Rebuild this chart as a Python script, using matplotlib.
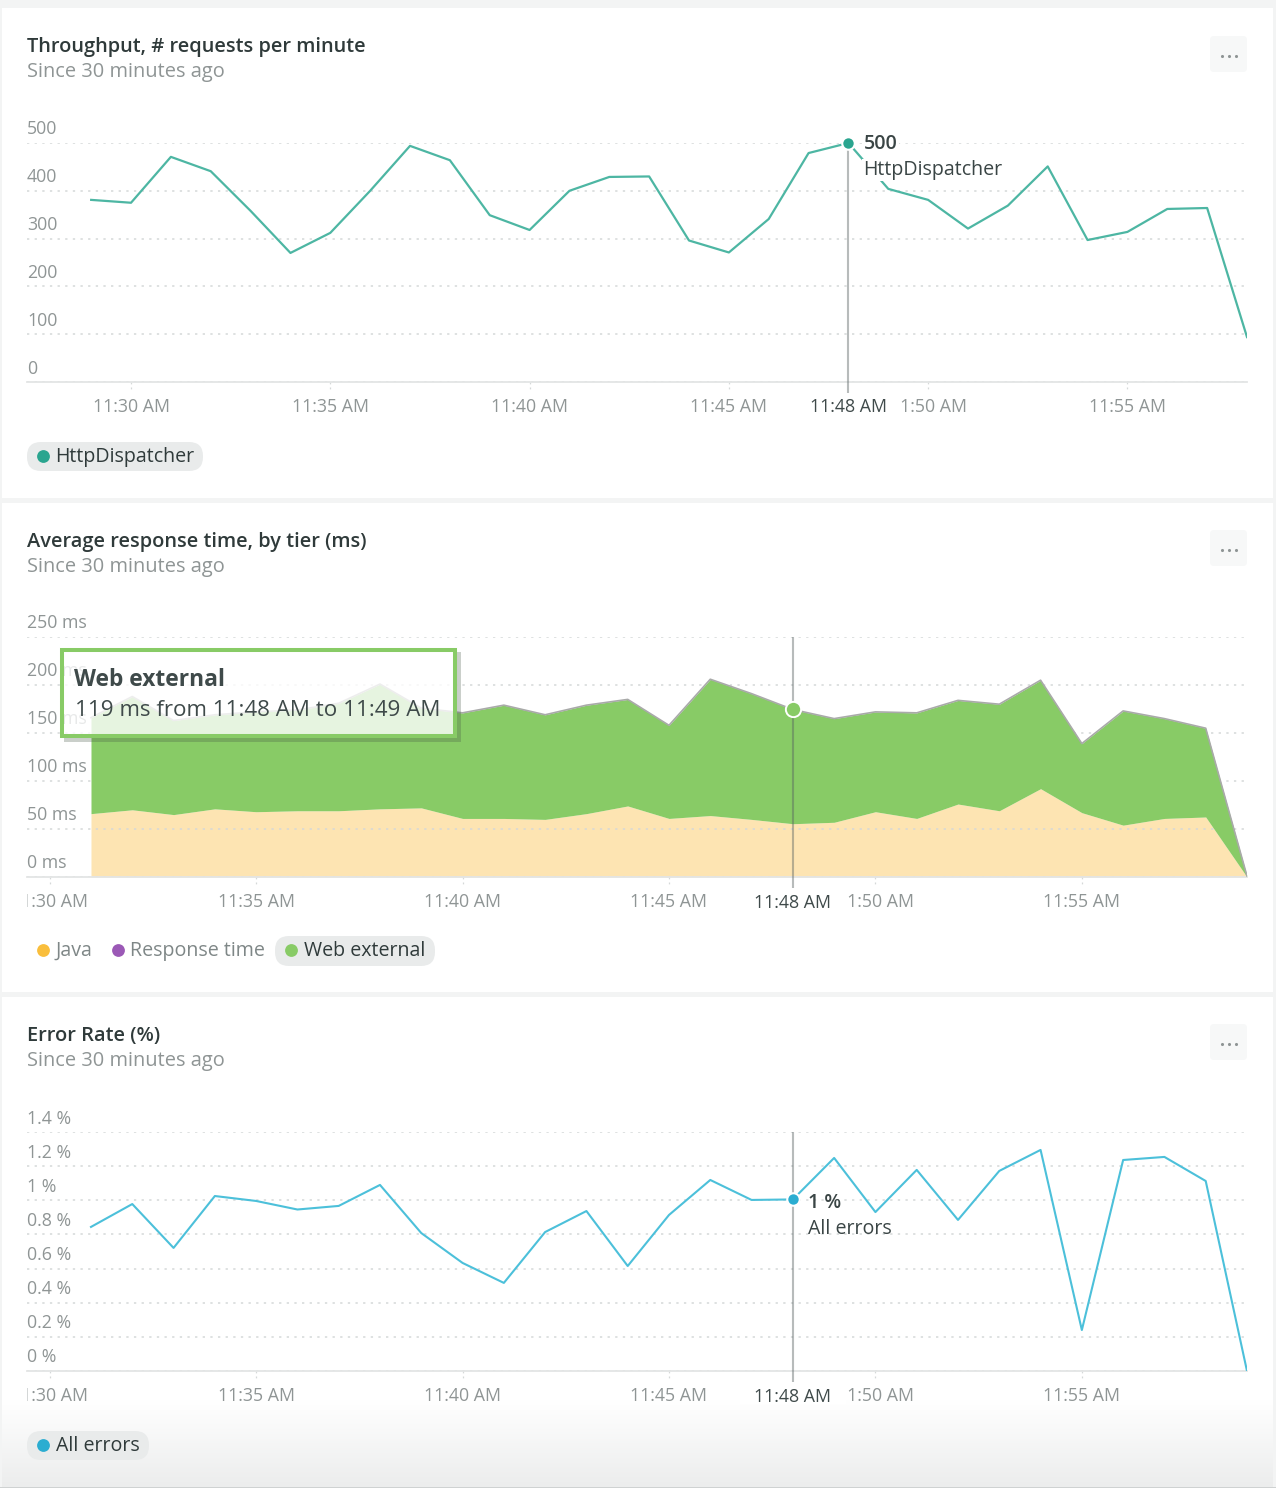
import numpy as np
import matplotlib
matplotlib.use("Agg")
import matplotlib.pyplot as plt
from matplotlib.patches import Rectangle, FancyBboxPatch
from matplotlib.transforms import ScaledTranslation, Bbox

plt.rcParams['font.family'] = ['Open Sans', 'DejaVu Sans']

# ---- data ----
throughput_minutes = list(range(29, 59))
throughput = [381, 375, 471, 441, 358, 270, 312, 400, 494, 464, 349, 318, 400, 429, 430,
              296, 271, 341, 479, 500, 404, 381, 321, 369, 451, 297, 314, 362, 364, 94]
response_minutes = list(range(31, 60))
java_ms = [66, 70, 65, 71, 68, 69, 69, 71, 72, 61, 61, 60, 66, 74, 61, 64, 60, 55.5, 57,
           68, 61, 76, 69, 92, 67, 54, 61, 62.5, 0]
web_external_ms = [100, 118, 98, 98, 104, 105, 112, 130, 104, 110, 118, 109, 113, 111, 97,
                   142, 131, 119, 108, 104, 110, 108, 111, 113, 72, 119, 104, 92.5, 1]
error_rate = [0.844, 0.978, 0.721, 1.025, 0.996, 0.946, 0.967, 1.09, 0.808, 0.633, 0.516,
              0.814, 0.937, 0.615, 0.914, 1.119, 1.002, 1.005, 1.248, 0.931, 1.178, 0.885,
              1.172, 1.295, 0.24, 1.236, 1.254, 1.113, 0.0]
time_ticks = [30, 35, 40, 45, 50, 55]
time_labels = ['11:30 AM', '11:35 AM', '11:40 AM', '11:45 AM', '11:50 AM', '11:55 AM']
t_yticks = [0, 100, 200, 300, 400, 500]
t_ylabels = ['0', '100', '200', '300', '400', '500']
r_yticks = [0, 50, 100, 150, 200, 250]
r_ylabels = ['0 ms', '50 ms', '100 ms', '150 ms', '200 ms', '250 ms']
e_yticks = [0, 0.2, 0.4, 0.6, 0.8, 1.0, 1.2, 1.4]
e_ylabels = ['0 %', '0.2 %', '0.4 %', '0.6 %', '0.8 %', '1 %', '1.2 %', '1.4 %']
hover_minute = 48

# ---- layout / colours ----
W, H = 1276, 1488
PAGE = '#F3F4F4'
GRID = '#D5D8D8'
AXIS = '#E3E5E5'
TICK = '#8F9595'
DARK = '#2F3A3A'
TEAL_L, TEAL_D = '#4DB6A3', '#2AA58F'
GREEN = '#88CB66'
JAVA = '#FDE4B2'
BLUE_L, BLUE_D = '#4CC0DA', '#2BADD1'
PURPLE = '#9B59B6'
YELLOW = '#F9BE3C'
TICK_FS = 12.75

fig = plt.figure(figsize=(W / 100, H / 100), dpi=100, facecolor=PAGE)

bg = fig.add_axes([0, 0, 1, 1], zorder=-1)
bg.set_xlim(0, W); bg.set_ylim(H, 0); bg.axis('off')
for top, bot in [(8, 498), (503, 992), (997, 1488)]:
    bg.add_patch(Rectangle((2, top), 1271, bot - top, fc='white', ec='none'))
grad = np.linspace(0, 1, 100).reshape(-1, 1)
cmap = matplotlib.colors.LinearSegmentedColormap.from_list('f', ['#FFFFFF', '#ECEDED'])
bg.imshow(grad, extent=(2, 1273, 1487, 1400), cmap=cmap, aspect='auto', zorder=1)
bg.add_patch(Rectangle((0, 1487), W, 1, fc='#CFD2D2', ec='none', zorder=2))
bg.set_xlim(0, W); bg.set_ylim(H, 0)


def pill(x0, x1, y0, y1):
    bg.add_patch(FancyBboxPatch((x0 + 14, y0 + 14), x1 - x0 - 28, y1 - y0 - 28,
                                boxstyle='round,pad=14', fc='#E9EBEB', ec='none', zorder=2))


def legend_item(dot_x, y, text, color, active):
    bg.scatter([dot_x], [y], s=85, color=color, lw=0, zorder=3)
    bg.text(dot_x + 12.5, y + 1, text, fontsize=14.1, va='center', ha='left',
            color='#2F3A3A' if active else '#7F8787', zorder=3)


def header(title, y, sub_y):
    bg.text(27, y + 2, title, fontsize=14.4, fontweight=600, color=DARK, va='center', ha='left')
    bg.text(27, sub_y + 2, 'Since 30 minutes ago', fontsize=14.4, color=TICK, va='center', ha='left')


def menu(y):
    bg.add_patch(FancyBboxPatch((1214, y - 16), 29, 28, boxstyle='round,pad=4',
                                fc='#F7F8F8', ec='none', zorder=2))
    bg.scatter([1222, 1229, 1236], [y, y, y], s=5, color='#8F9595', lw=0, zorder=3)


header('Throughput, # requests per minute', 45, 70)
header('Average response time, by tier (ms)', 540, 565)
header('Error Rate (%)', 1034, 1059)
for y in (56, 550, 1044):
    menu(y)

pill(27, 203, 442, 471)
legend_item(43, 456, 'HttpDispatcher', TEAL_D, True)
legend_item(43, 950, 'Java', YELLOW, False)
legend_item(118, 950, 'Response time', PURPLE, False)
pill(275, 435, 936, 966)
legend_item(291, 950, 'Web external', GREEN, True)
pill(27, 149, 1431, 1460)
legend_item(43, 1445, 'All errors', BLUE_D, True)


def panel(top, bottom, xlim, ylim, yticks, ylabels):
    ax = fig.add_axes([27 / W, 1 - bottom / H, 1220 / W, (bottom - top) / H], zorder=1)
    ax.set_facecolor('none')
    ax.set_xlim(*xlim); ax.set_ylim(*ylim)
    for s in ('top', 'left', 'right'):
        ax.spines[s].set_visible(False)
    ax.spines['bottom'].set_color(AXIS); ax.spines['bottom'].set_linewidth(1.3)
    ax.set_axisbelow(True)
    ax.grid(axis='y', color=GRID, lw=1.1, ls=(0, (1.5, 3.5)))
    ax.set_yticks(yticks, ylabels)
    ax.tick_params(axis='y', length=0, pad=0, labelsize=TICK_FS, labelcolor=TICK)
    off = ScaledTranslation(0, 15.5 / 100, fig.dpi_scale_trans)
    for lab in ax.get_yticklabels():
        lab.set_ha('left')
        lab.set_transform(lab.get_transform() + off)
    ax.set_xticks(time_ticks, time_labels)
    ax.tick_params(axis='x', length=0, pad=11.5, labelsize=TICK_FS, labelcolor=TICK)
    clip = Bbox([[27, 0], [1276, H]])
    for lab in ax.get_xticklabels():
        lab.set_clip_box(clip)
        lab.set_clip_on(True)
    trans = ax.get_xaxis_transform()
    h = bottom - top
    px_per_min = 1220 / (xlim[1] - xlim[0])
    ax.vlines(time_ticks, 0, -10 / h, transform=trans, color=GRID, lw=0.9,
              ls=(0, (1.5, 2.5)), clip_on=False, zorder=1)
    # hover marker: a white mask hides the neighbouring label, as in the dashboard
    half = 53 / px_per_min
    ax.add_patch(Rectangle((hover_minute - half, -33 / h), 2 * half, 21 / h, transform=trans,
                           fc='white', ec='none', clip_on=False, zorder=5))
    ax.vlines([hover_minute], -11 / h, 1, transform=trans, color='#555F5F',
              alpha=0.42, lw=1.5, clip_on=False, zorder=7)
    ax.annotate('11:48 AM', xy=(hover_minute, 0), xycoords=trans, xytext=(0, -25.5 * 0.72),
                textcoords='offset points', ha='center', va='center', fontsize=TICK_FS, color='#3F4A4A',
                zorder=6, annotation_clip=False)
    return ax


# throughput
ax1 = panel(143, 382, (27.39, 58), (0, 500), t_yticks, t_ylabels)
ax1.plot(throughput_minutes, throughput, color=TEAL_L, lw=1.6, zorder=3)
hv = throughput[throughput_minutes.index(hover_minute)]
ax1.annotate('HttpDispatcher', xy=(hover_minute, hv), xytext=(15 * .72, -27 * .72),
             textcoords='offset points', fontsize=14.1, color='#3A4545', ha='left', va='center',
             bbox=dict(fc='white', ec='none', pad=1), zorder=5, annotation_clip=False)
ax1.annotate('500', xy=(hover_minute, hv), xytext=(15 * .72, -1 * .72), textcoords='offset points',
             fontsize=14.1, fontweight=600, color='#3A4545', ha='left', va='center',
             bbox=dict(fc='white', ec='none', pad=1), zorder=5, annotation_clip=False)
ax1.plot([hover_minute], [hv], 'o', ms=9, mfc=TEAL_D, mec='white', mew=1.5, clip_on=False, zorder=8)

# response time
ax2 = panel(637, 877, (29.45, 59), (0, 250), r_yticks, r_ylabels)
java = np.array(java_ms)
total = java + np.array(web_external_ms)
ax2.fill_between(response_minutes, 0, java, color=JAVA, lw=0, zorder=0.4)
ax2.fill_between(response_minutes, java, total, color=GREEN, lw=0, zorder=2)
ax2.plot(response_minutes, total, color='#A9AAA9', lw=1.2, zorder=3)
i = response_minutes.index(hover_minute)
ax2.plot([hover_minute], [total[i]], 'o', ms=11, mfc=GREEN, mec='white', mew=1.4, zorder=8)

# error rate
ax3 = panel(1132, 1371, (29.45, 59), (0, 1.4), e_yticks, e_ylabels)
ax3.plot(response_minutes, error_rate, color=BLUE_L, lw=1.5, zorder=3, clip_on=True)
ev = error_rate[response_minutes.index(hover_minute)]
ax3.annotate('All errors', xy=(hover_minute, ev), xytext=(15 * .72, -30 * .72),
             textcoords='offset points', fontsize=14.1, color='#3A4545', ha='left', va='center', zorder=5)
ax3.annotate('1 %', xy=(hover_minute, ev), xytext=(15 * .72, -4 * .72), textcoords='offset points',
             fontsize=14.1, fontweight=600, color='#3A4545', ha='left', va='center', zorder=5)
ax3.plot([hover_minute], [ev], 'o', ms=9, mfc=BLUE_D, mec='white', mew=1.5, zorder=8)

# tooltip overlay
ov = fig.add_axes([0, 0, 1, 1], zorder=5)
ov.set_xlim(0, W); ov.set_ylim(H, 0); ov.axis('off')
ov.add_patch(Rectangle((457, 652), 4, 90, fc='#445544', alpha=0.28, ec='none'))
ov.add_patch(Rectangle((64, 738), 393, 4, fc='#445544', alpha=0.28, ec='none'))
ov.add_patch(Rectangle((60, 648), 397, 90, fc='white', alpha=0.8, ec='none'))
ov.add_patch(Rectangle((62, 650), 393, 86, fc='none', ec=GREEN, lw=2.9))
ov.text(74, 680, 'Web external', fontsize=16.4, fontweight=700, color='#3F4A4A', va='center', ha='left')
ov.text(75, 710.5, '119 ms from 11:48 AM to 11:49 AM', fontsize=16.15, color='#3F4A4A', va='center', ha='left')

fig.savefig('out.png', dpi=100, facecolor=PAGE)
